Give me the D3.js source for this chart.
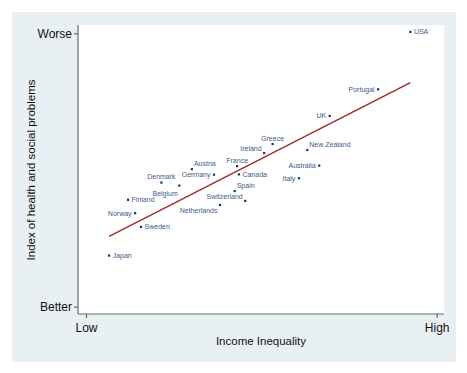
<!DOCTYPE html>
<html>
<head>
<meta charset="utf-8">
<script src="https://cdn.jsdelivr.net/npm/d3@7"></script>
<style>
  body { margin: 0; background: #fff; }
  svg { display: block; font-family: Arial, "Liberation Sans", sans-serif; }
</style>
</head>
<body>
<svg id="chart" width="467" height="373"></svg>
<script>
// values, 0 = Low/Better, 10 = High/Worse
const countries = ["USA", "Portugal", "UK", "Greece", "Ireland", "New Zealand", "Australia",
  "Italy", "France", "Canada", "Germany", "Austria", "Denmark", "Belgium", "Spain",
  "Switzerland", "Netherlands", "Finland", "Norway", "Sweden", "Japan"];
const inequality = [9.25, 8.33, 6.95, 5.32, 5.08, 6.31, 6.65, 6.07, 4.31, 4.36, 3.65,
  3.02, 2.15, 2.66, 4.24, 4.54, 3.82, 1.20, 1.40, 1.57, 0.66];
const problems = [10.05, 7.95, 6.98, 5.95, 5.62, 5.73, 5.16, 4.70, 5.14, 4.84, 4.83,
  5.03, 4.54, 4.43, 4.23, 3.87, 3.72, 3.91, 3.42, 2.92, 1.87];
const xTicks = [0, 10];
const xTickLabels = ["Low", "High"];
const yTicks = [0, 10];
const yTickLabels = ["Better", "Worse"];

// where each label sits next to its dot
const anchors = {
  r:  [3.5, 2.5, "start"],
  l:  [-3.5, 2.5, "end"],
  t:  [0, -3.5, "middle"],
  tr: [2, -2.8, "start"],
  tl: [-2.5, -1.8, "end"],
  bl: [-1.5, 10, "end"],
  b:  [-2.5, 8.2, "end"]
};
const labelSide = {
  "USA": "r", "Portugal": "l", "UK": "l", "Greece": "t", "Ireland": "tl",
  "New Zealand": "tr", "Australia": "l", "Italy": "l", "France": "t", "Canada": "r",
  "Germany": "l", "Austria": "tr", "Denmark": "t", "Belgium": "bl", "Spain": "tr",
  "Switzerland": "tl", "Netherlands": "b", "Finland": "r", "Norway": "l",
  "Sweden": "r", "Japan": "r"
};

const svg = d3.select("#chart");
const plot = { left: 78, top: 25, right: 444, bottom: 314 };

svg.append("rect")
  .attr("x", 12).attr("y", 12).attr("width", 444).attr("height", 350)
  .attr("fill", "#e9f0f3");
svg.append("rect")
  .attr("x", plot.left).attr("y", plot.top)
  .attr("width", plot.right - plot.left).attr("height", plot.bottom - plot.top)
  .attr("fill", "#ffffff");

const x = d3.scaleLinear().domain([0, 10]).range([86, 436.7]);
const y = d3.scaleLinear().domain([0, 10]).range([306.7, 33.3]);

// axes
const yAxis = svg.append("g")
  .attr("transform", `translate(${plot.left},0)`)
  .call(d3.axisLeft(y).tickValues(yTicks).tickSize(4).tickPadding(2)
    .tickFormat((d, i) => yTickLabels[i]));
yAxis.select(".domain").attr("d", `M0,${plot.top}V${plot.bottom}`);

const xAxis = svg.append("g")
  .attr("transform", `translate(0,${plot.bottom})`)
  .call(d3.axisBottom(x).tickValues(xTicks).tickSize(4).tickPadding(5)
    .tickFormat((d, i) => xTickLabels[i]));
xAxis.select(".domain").attr("d", `M${plot.left},0H${plot.right}`);

svg.selectAll(".domain, .tick line").attr("stroke", "#6b6b6b").attr("stroke-width", 1.2);
svg.selectAll(".tick text")
  .attr("fill", "#111")
  .style("font-size", "12px")
  .style("font-family", "Arial, 'Liberation Sans', sans-serif");

svg.append("text")
  .attr("x", 261).attr("y", 345)
  .attr("text-anchor", "middle")
  .style("font-size", "11.5px")
  .attr("fill", "#111")
  .text("Income Inequality");

svg.append("text")
  .attr("transform", "translate(35,170) rotate(-90)")
  .attr("text-anchor", "middle")
  .style("font-size", "11.5px")
  .attr("fill", "#111")
  .text("Index of health and social problems");

// fitted line
const pts = countries.map((c, i) => ({ name: c, x: inequality[i], y: problems[i] }));
const mx = d3.mean(pts, d => d.x), my = d3.mean(pts, d => d.y);
const slope = d3.sum(pts, d => (d.x - mx) * (d.y - my)) / d3.sum(pts, d => (d.x - mx) ** 2);
const x0 = d3.min(inequality), x1 = d3.max(inequality);
svg.append("line")
  .attr("x1", x(x0)).attr("y1", y(my + slope * (x0 - mx)))
  .attr("x2", x(x1)).attr("y2", y(my + slope * (x1 - mx)))
  .attr("stroke", "#a3282b")
  .attr("stroke-width", 1.4);

// points
svg.selectAll("rect.dot")
  .data(pts)
  .enter().append("rect")
  .attr("class", "dot")
  .attr("x", d => x(d.x) - 1.1)
  .attr("y", d => y(d.y) - 1.1)
  .attr("width", 2.2).attr("height", 2.2)
  .attr("fill", "#1c2f5e");

svg.selectAll("text.lbl")
  .data(pts)
  .enter().append("text")
  .attr("class", "lbl")
  .attr("x", d => x(d.x) + anchors[labelSide[d.name]][0])
  .attr("y", d => y(d.y) + anchors[labelSide[d.name]][1])
  .attr("text-anchor", d => anchors[labelSide[d.name]][2])
  .style("font-size", "7px")
  .attr("fill", "#3e5b87")
  .text(d => d.name);
</script>
</body>
</html>
